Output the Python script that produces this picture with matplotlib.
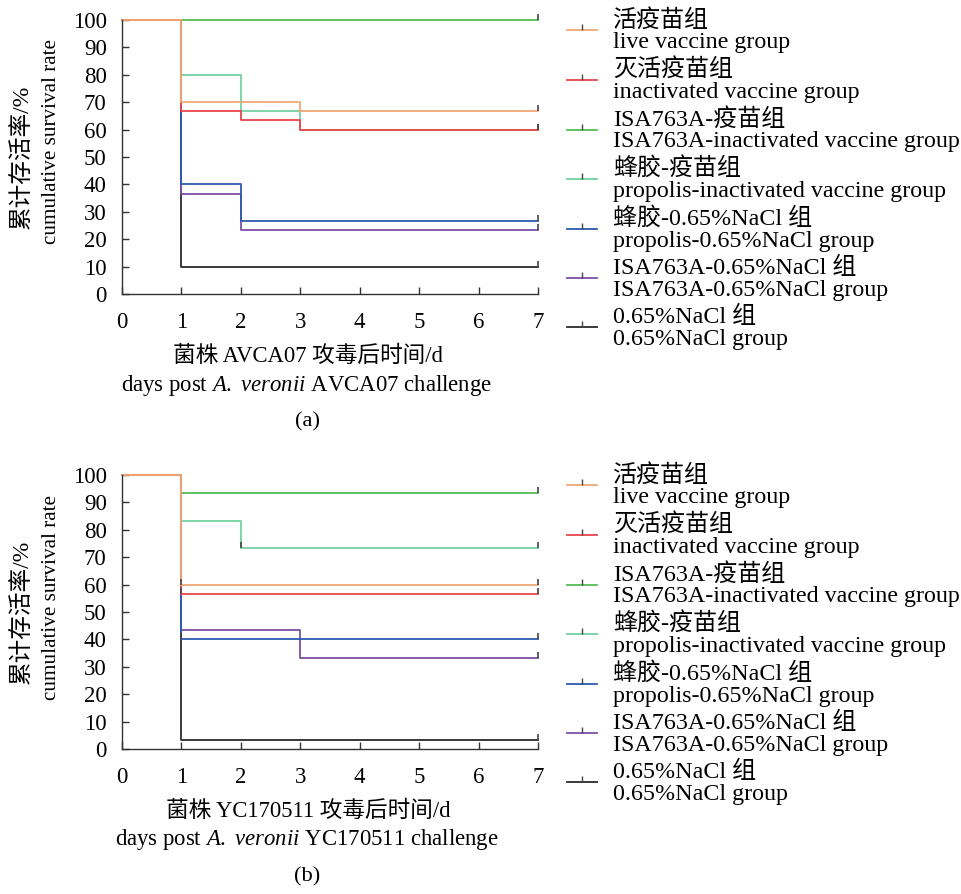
import matplotlib
matplotlib.use("Agg")
import matplotlib.pyplot as plt
from matplotlib.lines import Line2D
from matplotlib.path import Path

plt.rcParams['font.family'] = ['Liberation Serif', 'Noto Sans CJK SC', 'DejaVu Sans']
plt.rcParams['mathtext.fontset'] = 'custom'
plt.rcParams['mathtext.rm'] = 'Liberation Serif'
plt.rcParams['mathtext.it'] = 'Liberation Serif:italic'

days = [0, 1, 2, 3, 4, 5, 6, 7]
labels = ["活疫苗组\nlive vaccine group",
          "灭活疫苗组\ninactivated vaccine group",
          "ISA763A-疫苗组\nISA763A-inactivated vaccine group",
          "蜂胶-疫苗组\npropolis-inactivated vaccine group",
          "蜂胶-0.65%NaCl 组\npropolis-0.65%NaCl group",
          "ISA763A-0.65%NaCl 组\nISA763A-0.65%NaCl group",
          "0.65%NaCl 组\n0.65%NaCl group"]
colors = ['#F0A874', '#E8464A', '#55BD55', '#72D0A4', '#2C5BAE', '#7E4EA8', '#2A2A2A']

# panel (a): strain AVCA07
surv_a = [
    [100, 70, 70, 66.7, 66.7, 66.7, 66.7, 66.7],
    [100, 66.7, 63.3, 60, 60, 60, 60, 60],
    [100, 100, 100, 100, 100, 100, 100, 100],
    [100, 80, 66.7, 60, 60, 60, 60, 60],
    [100, 40, 26.7, 26.7, 26.7, 26.7, 26.7, 26.7],
    [100, 36.7, 23.3, 23.3, 23.3, 23.3, 23.3, 23.3],
    [100, 10, 10, 10, 10, 10, 10, 10],
]
censor_days_a = [[7], [7], [7], [7], [7], [7], [7]]
# panel (b): strain YC170511
surv_b = [
    [100, 60, 60, 60, 60, 60, 60, 60],
    [100, 56.7, 56.7, 56.7, 56.7, 56.7, 56.7, 56.7],
    [100, 93.3, 93.3, 93.3, 93.3, 93.3, 93.3, 93.3],
    [100, 83.3, 73.3, 73.3, 73.3, 73.3, 73.3, 73.3],
    [100, 40, 40, 40, 40, 40, 40, 40],
    [100, 43.3, 43.3, 33.3, 33.3, 33.3, 33.3, 33.3],
    [100, 3.3, 3.3, 3.3, 3.3, 3.3, 3.3, 3.3],
]
censor_days_b = [[1, 7], [1, 7], [7], [2, 7], [1, 7], [7], [1, 7]]
xlabels_cn = ["菌株 AVCA07 攻毒后时间/d", "菌株 YC170511 攻毒后时间/d"]
xlabels_en = [r"days post $\mathit{A.}$ $\mathit{veronii}$ AVCA07 challenge",
              r"days post $\mathit{A.}$ $\mathit{veronii}$ YC170511 challenge"]
panel_tags = ["(a)", "(b)"]
ylabel_cn = "累计存活率/%"
ylabel_en = "cumulative survival rate"
yticks = [0, 10, 20, 30, 40, 50, 60, 70, 80, 90, 100]

W, H = 961, 894
fig = plt.figure(figsize=(W / 100, H / 100), dpi=100)

censor = Path([(0, 0), (0, 1)], [Path.MOVETO, Path.LINETO])

def px_axes(left, top, right, bottom):
    return fig.add_axes([left / W, 1 - bottom / H, (right - left) / W, (bottom - top) / H])

def ftext(x, y, s, **kw):
    fig.text(x / W, 1 - y / H, s, ha='center', va='center', **kw)

boxes = [(122, 19.7, 538, 294.3), (122, 474.7, 538, 749.3)]
offsets = [0, 455]
fs_leg = 17.3

for p, (surv, cdays) in enumerate([(surv_a, censor_days_a), (surv_b, censor_days_b)]):
    ax = px_axes(*boxes[p])
    off = offsets[p]
    for i in reversed(range(len(surv))):
        ax.step(days, surv[i], where='post', color=colors[i], lw=1.3, clip_on=False)
        cx = cdays[i]
        cy = [surv[i][days.index(d)] for d in cx]
        ax.plot(cx, cy, marker=censor, ms=9, mew=1.2,
                color='#444444', ls='none', clip_on=False)
    ax.set_xlim(0, 7)
    ax.set_ylim(0, 100)
    ax.set_xticks(days)
    ax.set_yticks(yticks)
    for s in ['top', 'right']:
        ax.spines[s].set_visible(False)
    for s in ['left', 'bottom']:
        ax.spines[s].set_color('#333333')
        ax.spines[s].set_linewidth(1.0)
    ax.tick_params(direction='in', length=5, width=1.0, color='#333333',
                   labelsize=16.5)
    ax.tick_params(axis='y', pad=11)
    ax.tick_params(axis='x', pad=13)
    ftext(22, 157 + off, ylabel_cn, rotation=90, fontsize=17)
    ftext(52, 142 + off, ylabel_en, rotation=90, fontsize=15.2)
    ftext(308, 356 + off, xlabels_cn[p], fontsize=16.3)
    ftext(307, 385 + off, xlabels_en[p], fontsize=16.4)
    ftext(307, 422 + off, panel_tags[p], fontsize=16.2)
    handles = [Line2D([0], [0], color=c, lw=1.3, marker=censor, ms=9, mew=1.0,
                      markeredgecolor='#444444') for c in colors]
    leg = ax.legend(handles, labels, loc='upper left', bbox_to_anchor=(1.047, 1.075),
                    frameon=False, fontsize=fs_leg, handlelength=1.25, handletextpad=0.67,
                    labelspacing=0.22, borderaxespad=0)
    for t in leg.get_texts():
        t.set_linespacing(1.03)

fig.savefig("out.png", dpi=100)
